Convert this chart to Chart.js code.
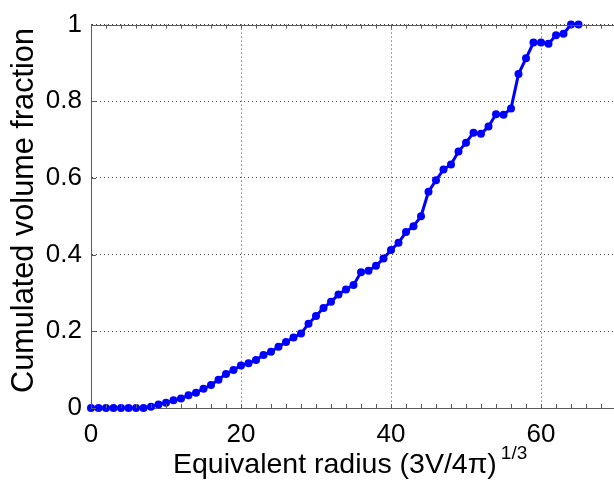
<!DOCTYPE html>
<html>
<head>
<meta charset="utf-8">
<script src="https://cdn.jsdelivr.net/npm/chart.js@4.4.1/dist/chart.umd.min.js"></script>
<style>
  html, body { margin: 0; padding: 0; background: #fff; overflow: hidden; }
  canvas { display: block; }
</style>
</head>
<body>
<canvas id="grafico" width="620" height="481"></canvas>
<script>
// Datos
const radios = [0, 1, 2, 3, 4, 5, 6, 7, 8, 9, 10, 11, 12, 13, 14, 15, 16, 17, 18, 19,
  20, 21, 22, 23, 24, 25, 26, 27, 28, 29, 30, 31, 32, 33, 34, 35, 36, 37, 38, 39,
  40, 41, 42, 43, 44, 45, 46, 47, 48, 49, 50, 51, 52, 53, 54, 55, 56, 57, 58, 59,
  60, 61, 62, 63, 64, 65];
const fraccionVolumen = [0, 0, 0, 0, 0, 0, 0, 0, 0.003, 0.009, 0.014, 0.020, 0.025, 0.033, 0.040, 0.050,
  0.060, 0.074, 0.089, 0.099, 0.111, 0.117, 0.125, 0.138, 0.147, 0.160, 0.172, 0.184, 0.194, 0.220,
  0.240, 0.261, 0.277, 0.296, 0.309, 0.321, 0.354, 0.358, 0.371, 0.390, 0.412, 0.431, 0.459, 0.474,
  0.500, 0.564, 0.594, 0.622, 0.635, 0.669, 0.692, 0.718, 0.715, 0.734, 0.766, 0.765, 0.781, 0.871,
  0.912, 0.953, 0.953, 0.950, 0.972, 0.976, 1.0, 1.0];
const ticksX = [0, 20, 40, 60];
const ticksY = [0, 0.2, 0.4, 0.6, 0.8, 1];

const fuente = '"Liberation Sans", Arial, sans-serif';
const colorEje = '#5a5a5a';

// Ejes estilo MATLAB: caja, ticks hacia dentro y titulos con superindice
const ejesMatlab = {
    id: 'ejesMatlab',
    afterDraw(chart) {
        const { ctx, chartArea: a, scales: { x, y } } = chart;
        ctx.save();
        ctx.strokeStyle = colorEje;
        ctx.lineWidth = 1;
        ctx.beginPath();
        ctx.moveTo(a.left, Math.round(a.top) + 0.5);
        ctx.lineTo(a.right, Math.round(a.top) + 0.5);
        ctx.stroke();

        // ticks menores en x (arriba y abajo)
        ctx.beginPath();
        for (let v = 0; v <= x.max; v += 2) {
            const px = Math.round(x.getPixelForValue(v)) + 0.5;
            ctx.moveTo(px, a.bottom); ctx.lineTo(px, a.bottom - 4);
            ctx.moveTo(px, a.top); ctx.lineTo(px, a.top + 4);
        }
        // ticks en y
        for (const v of ticksY) {
            const py = Math.round(y.getPixelForValue(v)) + 0.5;
            ctx.moveTo(a.left, py); ctx.lineTo(a.left + 5, py);
        }
        ctx.stroke();

        // titulo eje x
        ctx.fillStyle = '#000';
        ctx.textBaseline = 'alphabetic';
        ctx.textAlign = 'left';
        ctx.font = '28.5px ' + fuente;
        const texto = 'Equivalent radius (3V/4\u03c0)';
        const x0 = 173, base = 473;
        ctx.fillText(texto, x0, base);
        const w = ctx.measureText(texto).width;
        ctx.font = '19px ' + fuente;
        ctx.fillText('1/3', x0 + w + 4, base - 14);

        // titulo eje y
        ctx.font = '30.7px ' + fuente;
        ctx.translate(33, 210.5);
        ctx.rotate(-Math.PI / 2);
        ctx.textAlign = 'center';
        ctx.fillText('Cumulated volume fraction', 0, 0);
        ctx.restore();
    }
};

const datos = {
    labels: radios,
    datasets: [{
        data: radios.map((r, i) => ({ x: r, y: fraccionVolumen[i] })),
        borderColor: '#0000ff',
        backgroundColor: '#0000ff',
        borderWidth: 3,
        pointRadius: 4,
        pointBorderWidth: 0,
        pointBackgroundColor: '#0000ff',
        tension: 0,
        clip: false
    }]
};

const config = {
    type: 'line',
    data: datos,
    options: {
        responsive: false,
        animation: false,
        layout: { padding: { top: 21, right: 4, left: 0, bottom: 0 } },
        plugins: { legend: { display: false }, tooltip: { enabled: false } },
        scales: {
            x: {
                type: 'linear',
                min: 0, max: 70,
                afterBuildTicks: (s) => { s.ticks = ticksX.map(v => ({ value: v })); },
                afterFit: (s) => { s.height = 73; },
                ticks: { color: '#000', font: { family: fuente, size: 26 }, padding: 11, maxRotation: 0 },
                grid: { color: '#444', lineWidth: 1, drawTicks: false },
                border: { color: colorEje, width: 1, dash: [1, 3], display: true }
            },
            y: {
                min: 0, max: 1,
                afterBuildTicks: (s) => { s.ticks = ticksY.map(v => ({ value: v })); },
                afterFit: (s) => { s.width = 91; },
                ticks: {
                    color: '#000', font: { family: fuente, size: 26 }, padding: 9,
                    callback: (v) => String(Math.round(v * 10) / 10)
                },
                grid: { color: '#444', lineWidth: 1, drawTicks: false },
                border: { color: colorEje, width: 1, dash: [1, 3], display: true }
            }
        }
    },
    plugins: [ejesMatlab]
};

new Chart(document.getElementById('grafico').getContext('2d'), config);
</script>
</body>
</html>
